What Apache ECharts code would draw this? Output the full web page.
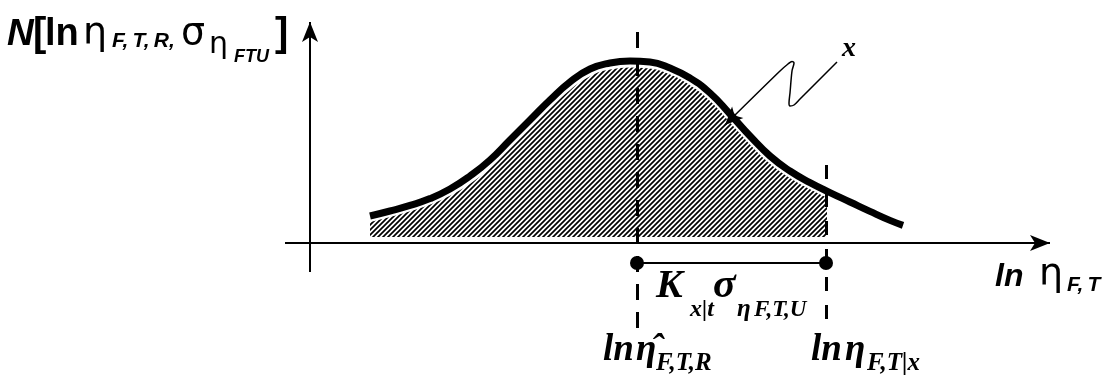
<!DOCTYPE html>
<html>
<head>
<meta charset="utf-8">
<script src="https://cdn.jsdelivr.net/npm/echarts@6/dist/echarts.min.js"></script>
<style>
  html, body { margin: 0; padding: 0; background: #fff; }
  #chart { width: 1112px; height: 386px; }
</style>
</head>
<body>
<div id="chart"></div>
<script>
// curve N[ln eta] (x in ln eta units, y in density units)
var curveX = [1.2, 1.6, 2.0, 2.4, 2.8, 3.2, 3.6, 4.0, 4.4, 4.8, 5.2, 5.6, 6.0, 6.4, 6.8, 7.2, 7.6, 8.0, 8.4, 8.8, 9.2, 9.6, 10.0, 10.4, 10.8, 11.2, 11.6, 11.86];
var curveY = [1.05, 1.3, 1.58, 1.92, 2.4, 3.05, 3.85, 4.85, 5.85, 6.85, 7.75, 8.4, 8.7, 8.8, 8.75, 8.45, 7.95, 7.2, 6.15, 5.05, 4.05, 3.3, 2.72, 2.22, 1.75, 1.28, 0.83, 0.58];

// hatched area under the curve, up to the limit
var hatchX = [1.2, 1.6, 2.0, 2.4, 2.8, 3.2, 3.6, 4.0, 4.4, 4.8, 5.2, 5.6, 6.0, 6.4, 6.8, 7.2, 7.6, 8.0, 8.4, 8.8, 9.2, 9.6, 10.0, 10.34];
var hatchY = [0.8, 1.05, 1.33, 1.67, 2.12, 2.72, 3.5, 4.5, 5.5, 6.5, 7.42, 8.1, 8.43, 8.53, 8.48, 8.18, 7.65, 6.87, 5.8, 4.7, 3.72, 3.0, 2.45, 2.02];

// mean and limit (ln eta_hat and ln eta_F,T|x)
var meanX = 6.54;
var limitX = 10.32;
var spanY = -1.3;

// axes ends
var axisX = [-0.5, 14.8];
var axisYat = -0.3;
var axisY = [-1.75, 10.75];

// dashed guides: [x, top, bottom]
var meanGuide = [meanX, 10.25, -4.55];
var limitGuide = [limitX, 3.6, -4.1];

// pointer to the curve ("x")
var pointerX = [10.54, 9.8, 9.68, 9.6, 9.58, 9.6, 9.64, 9.68, 9.64, 9.56, 9.4, 8.44];
var pointerY = [8.75, 6.9, 6.6, 6.55, 6.7, 7.2, 8.3, 8.7, 8.78, 8.65, 8.3, 5.95];
var pointerTip = [8.3, 5.6];

function zip(xs, ys) {
	return xs.map(function (x, i) { return [x, ys[i]]; });
}

// hatch pattern
var pat = document.createElement('canvas');
pat.width = 5; pat.height = 5;
var pc = pat.getContext('2d');
pc.fillStyle = '#fff';
pc.fillRect(0, 0, 5, 5);
pc.strokeStyle = '#000';
pc.lineWidth = 1.7;
pc.beginPath();
pc.moveTo(-1, 6); pc.lineTo(6, -1);
pc.moveTo(-1, 1); pc.lineTo(1, -1);
pc.moveTo(4, 6); pc.lineTo(6, 4);
pc.stroke();

var sans = 'Liberation Sans, Arial, sans-serif';
var greek = 'DejaVu Sans, sans-serif';
var serif = 'Liberation Serif, Times New Roman, serif';
var th = '\u2009';

function txt(s, x, base, size, family, weight, style) {
	return {
		type: 'text',
		x: x,
		y: base - 0.33 * size,
		style: {
			text: s,
			fill: '#000',
			fontSize: size,
			fontFamily: family,
			fontWeight: weight || 'normal',
			fontStyle: style || 'normal',
			align: 'left',
			verticalAlign: 'middle'
		}
	};
}

var graphics = [
	// y axis title
	txt('N', 7, 47, 37, sans, 'bold', 'italic'),
	txt('[', 33, 48, 40, sans, 'bold'),
	txt('ln', 45, 47, 38, sans, 'bold'),
	txt('\u03B7', 83, 47, 38, greek),
	txt('F,' + th + 'T,' + th + 'R,', 112, 48, 21, sans, 'bold', 'italic'),
	txt('\u03C3', 181, 47, 38, greek),
	txt('\u03B7', 209, 55, 30, greek),
	txt('FTU', 234, 63, 18, sans, 'bold', 'italic'),
	txt(']', 275, 48, 40, sans, 'bold'),
	// x axis title
	txt('ln', 995, 288, 32, sans, 'bold', 'italic'),
	txt('\u03B7', 1039, 288, 38, greek),
	txt('F,' + th + 'T', 1067, 292, 21, sans, 'bold', 'italic'),
	// K sigma span
	txt('K', 656, 300, 40, serif, 'bold', 'italic'),
	txt('x|t', 690, 318, 24, serif, 'bold', 'italic'),
	txt('\u03C3', 713, 300, 42, serif, 'bold', 'italic'),
	txt('\u03B7', 737, 318, 25, serif, 'bold', 'italic'),
	txt('F,T,U', 754, 318, 23, serif, 'bold', 'italic'),
	// guide labels
	txt('ln', 603, 363, 37, serif, 'bold', 'italic'),
	txt('\u03B7\u0302', 636, 363, 37, serif, 'bold', 'italic'),
	txt('F,T,R', 656, 372, 25, serif, 'bold', 'italic'),
	txt('ln', 811, 363, 37, serif, 'bold', 'italic'),
	txt('\u03B7', 845, 363, 37, serif, 'bold', 'italic'),
	txt('F,T|x', 867, 372, 25, serif, 'bold', 'italic'),
	// pointer label
	txt('x', 842, 58, 28, serif, 'bold', 'italic')
];

var chart = echarts.init(document.getElementById('chart'));
chart.setOption({
	animation: false,
	backgroundColor: '#fff',
	grid: { left: 0, right: 0, top: 0, bottom: 0 },
	xAxis: { type: 'value', min: -6.2, max: 16.04, show: false },
	yAxis: { type: 'value', min: -7.45, max: 11.85, show: false },
	series: [
		{
			name: 'hatch',
			type: 'line',
			data: zip(hatchX, hatchY),
			smooth: 0.5,
			symbol: 'none',
			lineStyle: { color: '#fff', width: 2 },
			areaStyle: { color: { image: pat, repeat: 'repeat' }, opacity: 1 },
			z: 1
		},
		{
			name: 'curve',
			type: 'line',
			data: zip(curveX, curveY),
			smooth: 0.5,
			symbol: 'none',
			lineStyle: { color: '#000', width: 7, cap: 'butt' },
			z: 2
		},
		{
			name: 'guides',
			type: 'line',
			data: [],
			z: 3,
			markLine: {
				silent: true,
				symbol: 'none',
				label: { show: false },
				emphasis: { disabled: true },
				data: [
					[{ coord: [axisX[0], axisYat], symbol: 'none', lineStyle: { color: '#000', width: 2, type: 'solid' } },
					 { coord: [axisX[1], axisYat], symbol: 'arrow', symbolSize: [12, 20] }],
					[{ coord: [0, axisY[0]], symbol: 'none', lineStyle: { color: '#000', width: 2, type: 'solid' } },
					 { coord: [0, axisY[1]], symbol: 'arrow', symbolSize: [12, 20] }],
					[{ coord: [meanGuide[0], meanGuide[1]], lineStyle: { color: '#000', width: 3, type: [16, 12] } },
					 { coord: [meanGuide[0], meanGuide[2]] }],
					[{ coord: [limitGuide[0], limitGuide[1]], lineStyle: { color: '#000', width: 3, type: [14, 14] } },
					 { coord: [limitGuide[0], limitGuide[2]] }],
					[{ coord: [meanX, spanY], lineStyle: { color: '#000', width: 2, type: 'solid' } },
					 { coord: [limitX, spanY] }]
				]
			}
		},
		{
			name: 'pointer',
			type: 'line',
			data: zip(pointerX, pointerY),
			smooth: 0.3,
			symbol: 'none',
			lineStyle: { color: '#000', width: 1.5 },
			z: 6,
			markLine: {
				silent: true,
				symbol: 'none',
				label: { show: false },
				emphasis: { disabled: true },
				data: [
					[{ coord: [pointerX[pointerX.length - 1], pointerY[pointerY.length - 1]], symbol: 'none', lineStyle: { color: '#000', width: 1.5, type: 'solid' } },
					 { coord: pointerTip, symbol: 'arrow', symbolSize: [12, 18], itemStyle: { color: '#000' } }]
				]
			}
		},
		{
			name: 'ends',
			type: 'scatter',
			data: [[meanX, spanY], [limitX, spanY]],
			symbolSize: 14,
			itemStyle: { color: '#000', opacity: 1 },
			z: 5
		}
	],
	graphic: graphics
});
</script>
</body>
</html>
